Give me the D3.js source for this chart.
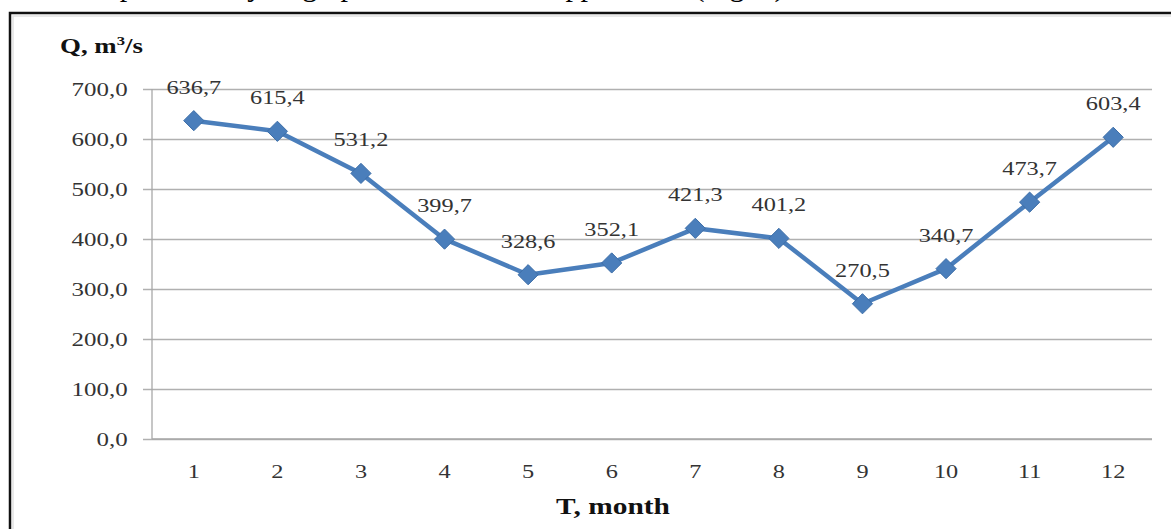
<!DOCTYPE html>
<html>
<head>
<meta charset="utf-8">
<script src="https://cdn.jsdelivr.net/npm/d3@7"></script>
<style>
  html, body { margin: 0; padding: 0; background: #fff; }
  svg { display: block; }
</style>
</head>
<body>
<svg id="chart" width="1171" height="529"></svg>
<script>
const months = ["1","2","3","4","5","6","7","8","9","10","11","12"];
const discharge = [636.7, 615.4, 531.2, 399.7, 328.6, 352.1, 421.3, 401.2, 270.5, 340.7, 473.7, 603.4];
const yTicks = [0, 100, 200, 300, 400, 500, 600, 700];
const yTitle = "Q, m";
const xTitle = "T, month";
const pageText = "The shape of the hydrograph has a concave appearance (Fig. 3).";

const svg = d3.select("#chart");
const fmt = v => d3.format(".1f")(v).replace(".", ",");
const serif = "'Liberation Serif', 'Times New Roman', serif";
const SX = 1.28; // horizontal stretch of the chart's text

// page text (cut off at top)
svg.append("text")
  .attr("x", 792).attr("y", -4).attr("text-anchor", "end")
  .attr("font-family", serif)
  .attr("font-size", 30).attr("fill", "#000")
  .text(pageText);

// outer frame
svg.append("rect").attr("x", 10).attr("y", 13).attr("width", 1180).attr("height", 540)
  .attr("fill", "none").attr("stroke", "#111").attr("stroke-width", 2.5);
svg.append("rect").attr("x", 13).attr("y", 16).attr("width", 1180).attr("height", 540)
  .attr("fill", "none").attr("stroke", "#e2e2e2").attr("stroke-width", 1.5);

const x = d3.scaleBand().domain(months).range([152, 1155]);
const y = d3.scaleLinear().domain([0, 700]).range([439, 89]);

// gridlines + y labels
const gy = svg.append("g").attr("transform", "translate(152,0)")
  .call(d3.axisLeft(y).tickValues(yTicks).tickSize(-(1152 - 152)).tickPadding(19).tickFormat(fmt));
gy.select(".domain").remove();
gy.selectAll(".tick line").attr("stroke", "#b0b0b0").attr("stroke-width", 1.3).attr("x1", -9);
gy.selectAll(".tick text").attr("font-family", serif).attr("font-size", 19.5).attr("fill", "#333")
  .attr("transform", `scale(${SX},1)`);

// y axis line
svg.append("line").attr("x1", 152).attr("x2", 152).attr("y1", 89).attr("y2", 439)
  .attr("stroke", "#a8a8a8").attr("stroke-width", 1.3);

// x axis
const gx = svg.append("g").attr("transform", "translate(0,439)")
  .call(d3.axisBottom(x).tickSize(0).tickPadding(26));
gx.select(".domain").attr("stroke", "#a8a8a8").attr("stroke-width", 1.3).attr("d", "M152,0H1152");
gx.selectAll(".tick text").attr("font-family", serif).attr("font-size", 19).attr("fill", "#333")
  .attr("transform", `scale(${SX},1)`);

const cx = d => x(d) + x.bandwidth() / 2;

// line
svg.append("path")
  .datum(discharge)
  .attr("fill", "none").attr("stroke", "#4a7ebb").attr("stroke-width", 4.5).attr("stroke-linejoin", "round")
  .attr("d", d3.line().x((d, i) => cx(months[i])).y(d => y(d)));

// markers
svg.append("g").selectAll("path").data(discharge).join("path")
  .attr("d", d3.symbol(d3.symbolDiamond2, 260)())
  .attr("transform", (d, i) => `translate(${cx(months[i])},${y(d)})`)
  .attr("fill", "#4a7ebb").attr("stroke", "#3d6ea8").attr("stroke-width", 1);

// data labels
svg.append("g").selectAll("text").data(discharge).join("text")
  .attr("x", 0).attr("y", 0)
  .attr("transform", (d, i) => `translate(${cx(months[i])},${y(d) - 27}) scale(${SX},1)`)
  .attr("text-anchor", "middle")
  .attr("font-family", serif).attr("font-size", 19).attr("fill", "#333")
  .text(fmt);

// y title
const yt = svg.append("text").attr("x", 0).attr("y", 0)
  .attr("transform", `translate(60,53) scale(${SX},1)`)
  .attr("font-family", serif).attr("font-size", 21).attr("font-weight", "bold").attr("fill", "#111");
yt.append("tspan").text(yTitle);
yt.append("tspan").attr("font-size", 13).attr("dy", -8).text("3");
yt.append("tspan").attr("dy", 8).text("/s");

// x title
svg.append("text").attr("x", 0).attr("y", 0).attr("text-anchor", "middle")
  .attr("transform", `translate(613,514) scale(${SX},1)`)
  .attr("font-family", serif).attr("font-size", 23).attr("font-weight", "bold").attr("fill", "#111")
  .text(xTitle);
</script>
</body>
</html>
